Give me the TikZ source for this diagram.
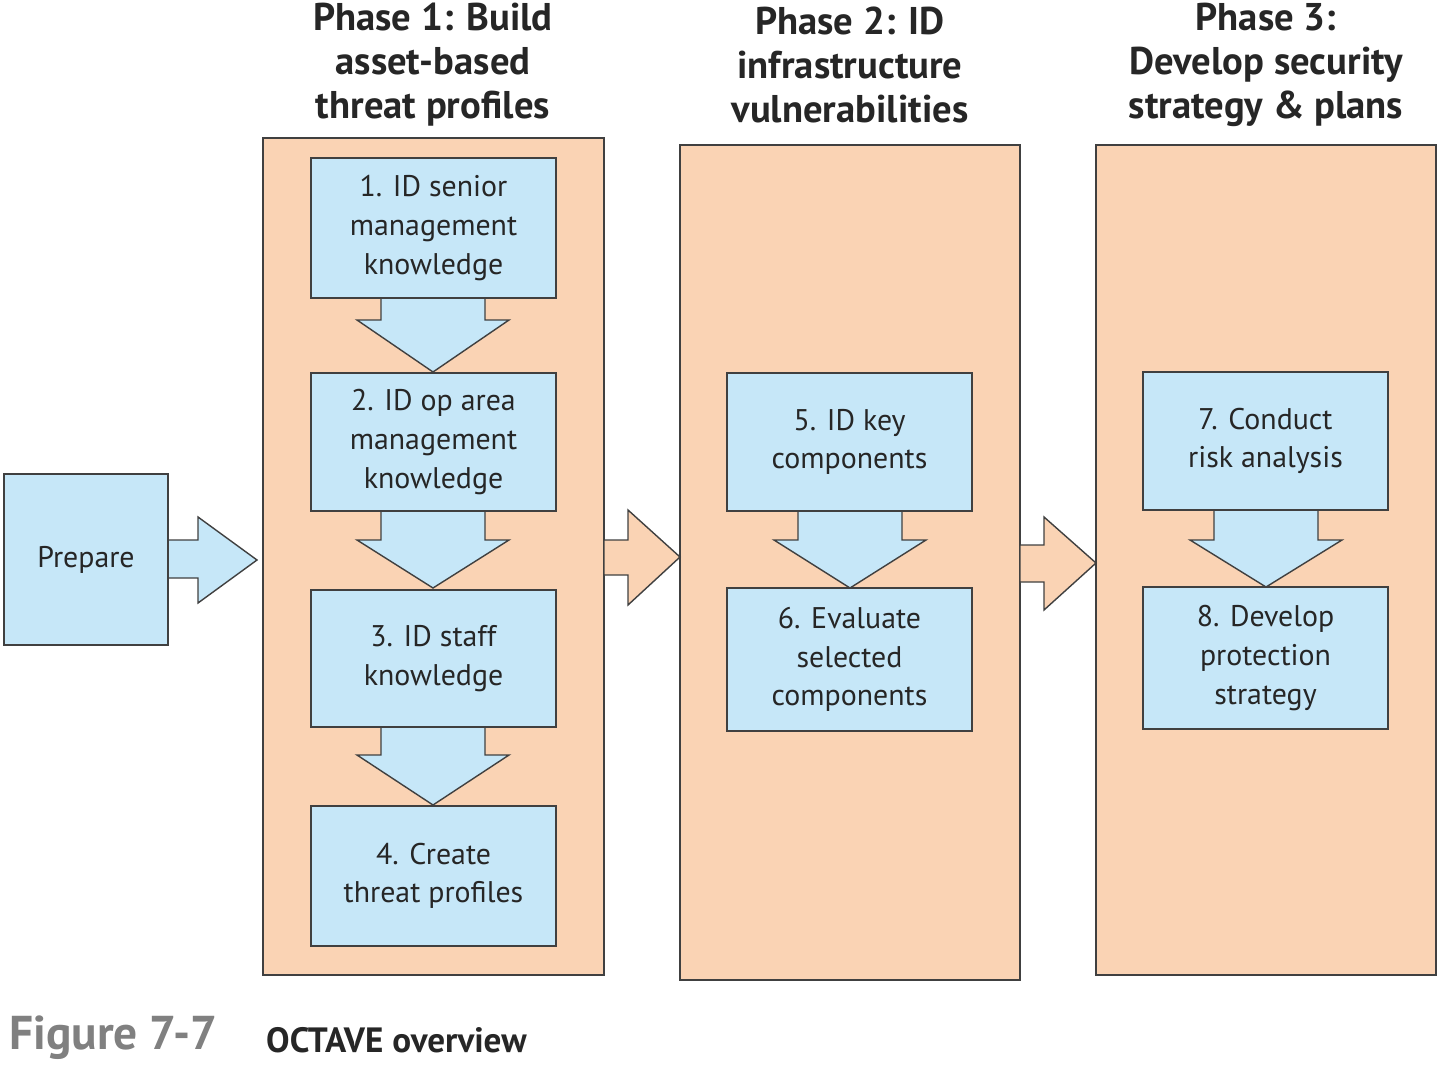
\documentclass[tikz,border=0pt]{standalone}
\usepackage{fontspec}
\setmainfont{PT Sans}
\begin{document}
\begin{tikzpicture}[x=0.02cm,y=-0.02cm,
 phase/.style={draw=black!75,line width=0.8pt,fill=peach},
 stp/.style={draw=black!75,line width=0.8pt,fill=lblue},
 blk/.style={draw=black!75,line width=0.8pt,fill=lblue,line join=miter},
 blkp/.style={draw=black!75,line width=0.8pt,fill=peach,line join=miter},
 txt/.style={align=center,font=\fontsize{17}{22}\selectfont,text=black!85},
 hd/.style={align=center,font=\bfseries\fontsize{22}{25}\selectfont,text=black!85}]
\definecolor{peach}{HTML}{FAD3B4}
\definecolor{lblue}{HTML}{C6E7F8}
\useasboundingbox (0,0) rectangle (1440,1068);
% phases
\draw[phase] (263,138) rectangle (604,975);
\draw[phase] (680,145) rectangle (1020,980);
\draw[phase] (1096,145) rectangle (1436,975);
% headers
\node[hd] (h1) at (433,65) {Phase 1: Build\\asset-based\\threat profiles};
\node[hd] (h2) at (850,65) {Phase 2: ID\\infrastructure\\vulnerabilities};
\node[hd] (h3) at (1266,65) {Phase 3:\\Develop security\\strategy \& plans};
% block arrows between phases
\draw[blkp] (604,540) -- (628,540) -- (628,510) -- (680,557) -- (628,605) -- (628,575) -- (604,575) -- cycle;
\draw[blkp] (1020,545) -- (1044,545) -- (1044,517) -- (1096,563) -- (1044,610) -- (1044,582) -- (1020,582) -- cycle;
% prepare
\draw[blk] (168,540) -- (198,540) -- (198,517) -- (257,560) -- (198,603) -- (198,578) -- (168,578) -- cycle;
\node[stp,minimum width=3.28cm,minimum height=3.42cm,txt] (prep) at (86,559.5) {Prepare};
% down arrows
\foreach \cx/\ya/\yb/\tip in {433/298/320/372, 433/511/540/588, 433/727/755/805, 850/511/540/588, 1266/510/540/587}{
 \draw[blk] (\cx-52,\ya-2) -- (\cx-52,\yb) -- (\cx-76,\yb) -- (\cx,\tip) -- (\cx+76,\yb) -- (\cx+52,\yb) -- (\cx+52,\ya-2);
}
% steps
\node[stp,minimum width=4.9cm,minimum height=2.8cm,txt] (s1) at (433.5,228) {1. ID senior\\management\\knowledge};
\node[stp,minimum width=4.9cm,minimum height=2.76cm,txt] (s2) at (433.5,442) {2. ID op area\\management\\knowledge};
\node[stp,minimum width=4.9cm,minimum height=2.74cm,txt] (s3) at (433.5,658.5) {3. ID staff\\knowledge};
\node[stp,minimum width=4.9cm,minimum height=2.8cm,txt] (s4) at (433.5,876) {4. Create\\threat profiles};
\node[stp,minimum width=4.9cm,minimum height=2.76cm,txt] (s5) at (849.5,442) {5. ID key\\components};
\node[stp,minimum width=4.9cm,minimum height=2.86cm,txt] (s6) at (849.5,659.5) {6. Evaluate\\selected\\components};
\node[stp,minimum width=4.9cm,minimum height=2.76cm,txt] (s7) at (1265.5,441) {7. Conduct\\risk analysis};
\node[stp,minimum width=4.9cm,minimum height=2.84cm,txt] (s8) at (1265.5,658) {8. Develop\\protection\\strategy};
% caption
\node[anchor=west,font=\bfseries\fontsize{27}{30}\selectfont,text=black!50] (fig) at (3,1038) {Figure 7-7};
\node[anchor=west,font=\bfseries\fontsize{20}{24}\selectfont,text=black!85] (cap) at (260,1040) {OCTAVE overview};
\end{tikzpicture}
\end{document}
